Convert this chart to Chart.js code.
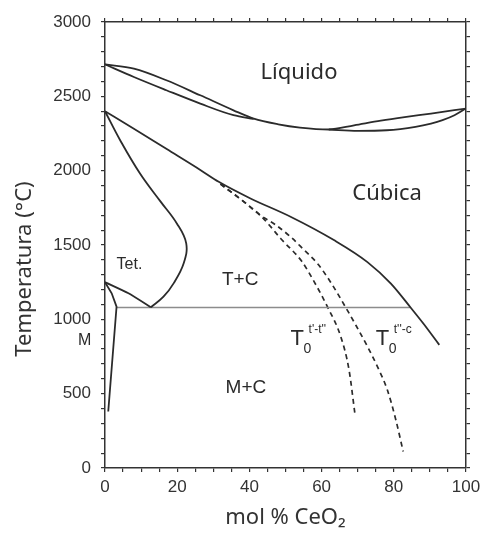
<!DOCTYPE html>
<html>
<head>
<meta charset="utf-8">
<title>Diagrama de fases ZrO2-CeO2</title>
<script src="https://cdn.jsdelivr.net/npm/chart.js@4.4.1/dist/chart.umd.min.js"></script>
<style>
  html, body { margin: 0; padding: 0; background: #fff; }
</style>
</head>
<body>
<canvas id="diagrama" width="480" height="534"></canvas>
<script>
const liquidoSup = [[0,2715],[8,2686],[17,2608],[26.4,2507],[35.6,2406],[41.2,2350],[48,2312],[54,2290],[62,2277],[69,2305],[76.4,2336],[83,2360],[90.3,2384],[100,2418]];
const solidoIzq = [[0,2715],[8,2630],[17,2541],[26.4,2451],[35.6,2373],[41.2,2348]];
const solidoDer = [[62,2277],[70,2268],[78,2272],[86,2295],[90.3,2317],[93.5,2340],[96.8,2373],[100,2418]];
const limiteCubica = [[0,2400],[8,2282],[17.1,2145],[26.4,2005],[31.5,1925],[40.3,1813],[51.4,1690],[63.4,1533],[72.7,1385],[79.2,1240],[84.7,1078],[88.4,965],[92.6,828]];
const limiteTet = [[0,2400],[4.2,2205],[9.7,1981],[15.3,1795],[19.9,1645],[22.5,1511],[21.8,1377],[19,1242],[16.2,1152],[12.7,1081]];
const tetInferior = [[0,1250],[6.5,1175],[12.7,1081]];
const limiteM = [[0,1250],[1.85,1175],[3.2,1085],[0.9,380]];
const eutectoide = [[3.2,1080],[84.5,1080]];
const t0tt = [[32,1910],[38,1800],[43,1700],[46,1620],[48.6,1545],[54.5,1390],[58,1250],[61.6,1085],[65.3,884],[67.6,660],[69.2,370]];
const t0tc = [[32,1910],[38,1800],[43,1700],[47,1640],[51.4,1555],[55,1470],[58.8,1377],[62.5,1250],[66.2,1100],[69.5,960],[72.7,817],[75.5,680],[78.2,526],[80.5,330],[82.6,111]];

const xTicks = [0, 20, 40, 60, 80, 100];
const yTicks = [0, 500, 1000, 1500, 2000, 2500, 3000];

const xTitle = 'mol % CeO\u2082';
const yTitle = 'Temperatura (°C)';

// textos dentro del diagrama (x, y en unidades de datos, linea base a la izquierda)
const regiones = [
  { text: 'Líquido', x: 43.1, y: 2618, font: '22px "Noto Sans"' },
  { text: 'Cúbica', x: 68.5, y: 1802, font: '22px "Noto Sans"' },
  { text: 'Tet.', x: 3.2, y: 1336, font: '16px "Liberation Sans"' },
  { text: 'T+C', x: 32.4, y: 1231, font: '19px "Liberation Sans"' },
  { text: 'M', x: -7.5, y: 828, font: '16px "Liberation Sans"' },
  { text: 'M+C', x: 33.4, y: 504, font: '19px "Liberation Sans"' }
];
const etiquetasT0 = [
  { sup: "t'-t''", x: 51.4, y: 828 },
  { sup: "t''-c", x: 75.0, y: 828 }
];

function serie(puntos, extra) {
    return Object.assign({
        data: puntos.map(function (p) { return { x: p[0], y: p[1] }; }),
        showLine: true,
        pointRadius: 0,
        borderColor: '#2b2b2b',
        borderWidth: 1.8,
        tension: 0.4,
        cubicInterpolationMode: 'monotone',
        fill: false
    }, extra || {});
}

const etiquetasPlugin = {
    id: 'etiquetas',
    afterDatasetsDraw: function (chart) {
        var ctx = chart.ctx;
        var sx = chart.scales.x;
        var sy = chart.scales.y;
        ctx.save();
        ctx.fillStyle = '#2b2b2b';
        ctx.textAlign = 'left';
        ctx.textBaseline = 'alphabetic';
        regiones.forEach(function (r) {
            ctx.font = r.font;
            ctx.fillText(r.text, sx.getPixelForValue(r.x), sy.getPixelForValue(r.y));
        });
        etiquetasT0.forEach(function (t) {
            var px = sx.getPixelForValue(t.x);
            var py = sy.getPixelForValue(t.y);
            ctx.font = '22px "Liberation Sans"';
            ctx.fillText('T', px, py);
            ctx.font = '14px "Liberation Sans"';
            ctx.fillText('0', px + 13, py + 8);
            ctx.font = '12px "Liberation Sans"';
            ctx.fillText(t.sup, px + 18, py - 12);
        });
        // titulo del eje y
        ctx.font = '22px "Noto Sans"';
        ctx.fillStyle = '#333';
        ctx.translate(30.5, 269);
        ctx.rotate(-Math.PI / 2);
        ctx.textAlign = 'center';
        ctx.fillText(yTitle, 0, 0);
        ctx.restore();
    }
};

var ejeGrid = { drawOnChartArea: false, drawTicks: true, tickLength: 4, color: '#333', tickColor: '#333', lineWidth: 1.2 };
var ejeBorde = { display: true, color: '#333', width: 1.5 };

var ctx = document.getElementById('diagrama').getContext('2d');
Chart.defaults.font.family = '"Liberation Sans", Arial, sans-serif';
Chart.defaults.color = '#333';

var chart = new Chart(ctx, {
    type: 'scatter',
    data: {
        datasets: [
            serie(liquidoSup),
            serie(solidoIzq),
            serie(solidoDer),
            serie(limiteCubica),
            serie(limiteTet, { cubicInterpolationMode: 'default', tension: 0.4 }),
            serie(tetInferior, { cubicInterpolationMode: 'default', tension: 0.2 }),
            serie(limiteM, { cubicInterpolationMode: 'default', tension: 0 }),
            serie(eutectoide, { cubicInterpolationMode: 'default', tension: 0, borderColor: '#8c8c8c', borderWidth: 1.5 }),
            serie(t0tt, { borderDash: [5, 4], borderWidth: 1.7 }),
            serie(t0tc, { borderDash: [5, 4], borderWidth: 1.7 })
        ]
    },
    options: {
        responsive: false,
        animation: false,
        layout: { padding: { top: 18, right: 10, bottom: 0, left: 0 } },
        plugins: {
            legend: { display: false },
            tooltip: { enabled: false }
        },
        scales: {
            x: {
                type: 'linear', position: 'bottom', min: 0, max: 100,
                ticks: {
                    stepSize: 5, autoSkip: false, maxRotation: 0, padding: 5,
                    font: { size: 17 }, color: '#333',
                    callback: function (v) { return xTicks.includes(v) ? String(v) : ''; }
                },
                grid: ejeGrid,
                border: ejeBorde,
                title: {
                    display: true, text: xTitle, color: '#333',
                    font: { family: '"Noto Sans"', size: 22 },
                    padding: { top: 0, bottom: 3 }
                },
                afterFit: function (s) { s.height = 66; s.paddingLeft = 0; s.paddingRight = 0; }
            },
            x2: {
                type: 'linear', position: 'top', min: 0, max: 100,
                ticks: { display: false, stepSize: 5 },
                grid: ejeGrid,
                border: ejeBorde,
                afterFit: function (s) { s.height = 4; s.paddingLeft = 0; s.paddingRight = 0; }
            },
            y: {
                type: 'linear', position: 'left', min: 0, max: 3000,
                ticks: {
                    stepSize: 100, autoSkip: false, padding: 10,
                    font: { size: 17 }, color: '#333',
                    callback: function (v) { return yTicks.includes(v) ? String(v) : ''; }
                },
                grid: ejeGrid,
                border: ejeBorde,
                afterFit: function (s) { s.width = 105; s.paddingTop = 0; s.paddingBottom = 0; }
            },
            y2: {
                type: 'linear', position: 'right', min: 0, max: 3000,
                ticks: { display: false, stepSize: 100 },
                grid: ejeGrid,
                border: ejeBorde,
                afterFit: function (s) { s.width = 4; s.paddingTop = 0; s.paddingBottom = 0; }
            }
        }
    },
    plugins: [etiquetasPlugin]
});
</script>
</body>
</html>
